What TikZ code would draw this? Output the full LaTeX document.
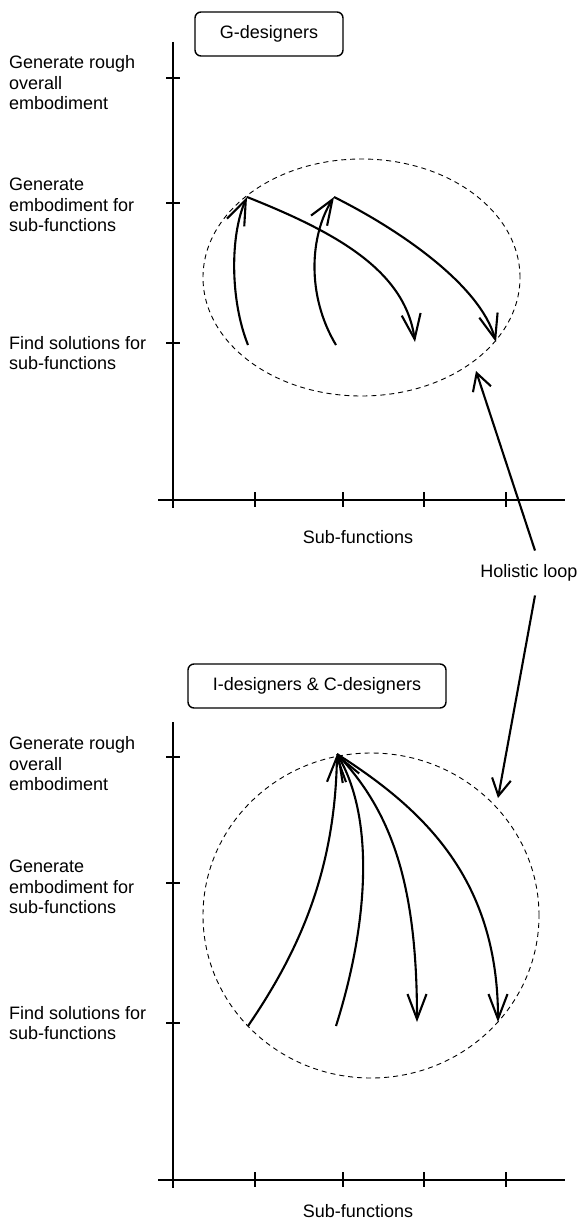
\documentclass[tikz,border=0pt]{standalone}
\usepackage{fontspec}
\setmainfont{Liberation Sans}
\usepackage{tikz}
\usetikzlibrary{arrows.meta}

\tikzset{
  lbl/.style={anchor=west,align=left,inner sep=0pt},
  groupbox/.style={draw,rounded corners=6pt,line width=1.4pt,minimum height=44pt,inner sep=0pt},
  loopline/.style={dash pattern=on 5pt off 4pt,line width=0.9pt},
  axisline/.style={line width=1.9pt}
}

\begin{document}
\begin{tikzpicture}[x=1pt,y=-1pt,font=\fontsize{18pt}{20.5pt}\selectfont]
\useasboundingbox (0,0) rectangle (579,1223);
\begin{scope}[>={Straight Barb[length=25pt,width=19pt]},line width=2.1pt]

    % upper chart
    \draw[axisline] (173,42) -- (173,508);
    \draw[axisline] (158,500) -- (565,500);
    \draw[axisline] (166,78) -- (180,78) (166,203) -- (180,203) (166,343) -- (180,343);
    \draw[axisline] (255,492) -- (255,507) (343,492) -- (343,507)
                    (424,492) -- (424,507) (506,492) -- (506,507);

    \node[lbl] (rough1) at (8,83) {Generate rough\\overall\\embodiment};
    \node[lbl] (emb1) at (8,205) {Generate\\embodiment for\\sub-functions};
    \node[lbl] (find1) at (8,353) {Find solutions for\\sub-functions};
    \node (subf1) at (358,537) {Sub-functions};
    \node[groupbox,minimum width=148pt] (gdes) at (269,34) {G-designers};

    \draw[loopline] (361.5,277.5) ellipse (158.5pt and 118.5pt);

    \coordinate (u1) at (248,345);
    \coordinate (t1) at (247,197);
    \coordinate (d1) at (415,342);
    \coordinate (u2) at (336,345);
    \coordinate (t2) at (334,197);
    \coordinate (d2) at (496,342);

    \draw[->] (u1) .. controls (230,300) and (230,235) .. (t1);
    \draw[->] (t1) .. controls (335,232) and (405,270) .. (d1);
    \draw[->] (u2) .. controls (306,295) and (310,235) .. (t2);
    \draw[->] (t2) .. controls (400,230) and (480,285) .. (d2);

    % lower chart
    \draw[axisline] (173,722) -- (173,1188);
    \draw[axisline] (158,1180) -- (565,1180);
    \draw[axisline] (166,757) -- (180,757) (166,883) -- (180,883) (166,1023) -- (180,1023);
    \draw[axisline] (255,1172) -- (255,1187) (343,1172) -- (343,1187)
                    (424,1172) -- (424,1187) (506,1172) -- (506,1187);

    \node[lbl] (rough2) at (8,764) {Generate rough\\overall\\embodiment};
    \node[lbl] (emb2) at (8,887) {Generate\\embodiment for\\sub-functions};
    \node[lbl] (find2) at (8,1023) {Find solutions for\\sub-functions};
    \node (subf2) at (358,1211) {Sub-functions};
    \node[groupbox,minimum width=258pt] (icdes) at (317,686) {I-designers \& C-designers};

    \draw[loopline] (371,915.5) ellipse (168pt and 162.5pt);

    \coordinate (top) at (337,754);
    \coordinate (a0) at (248,1026);
    \coordinate (b0) at (336,1026);
    \coordinate (c0) at (417,1022);
    \coordinate (e0) at (498,1022);

    \draw[->] (a0) .. controls (300,950) and (335,870) .. (top);
    \draw[->] (b0) .. controls (368,925) and (375,820) .. (top);
    \draw[->] (top) .. controls (390,810) and (417,880) .. (c0);
    \draw[->] (top) .. controls (425,810) and (498,880) .. (e0);

    % holistic loop
    \node[inner sep=13pt] (loop) at (529,573) {Holistic loop};
    \coordinate (hl1) at (476,371);
    \coordinate (hl2) at (498,798);
    \draw[->,>={Straight Barb[length=17pt,width=19pt]}] ([xshift=6pt]loop.north) -- (hl1);
    \draw[->,>={Straight Barb[length=17pt,width=19pt]}] ([xshift=6pt]loop.south) -- (hl2);

\end{scope}
\end{tikzpicture}
\end{document}
